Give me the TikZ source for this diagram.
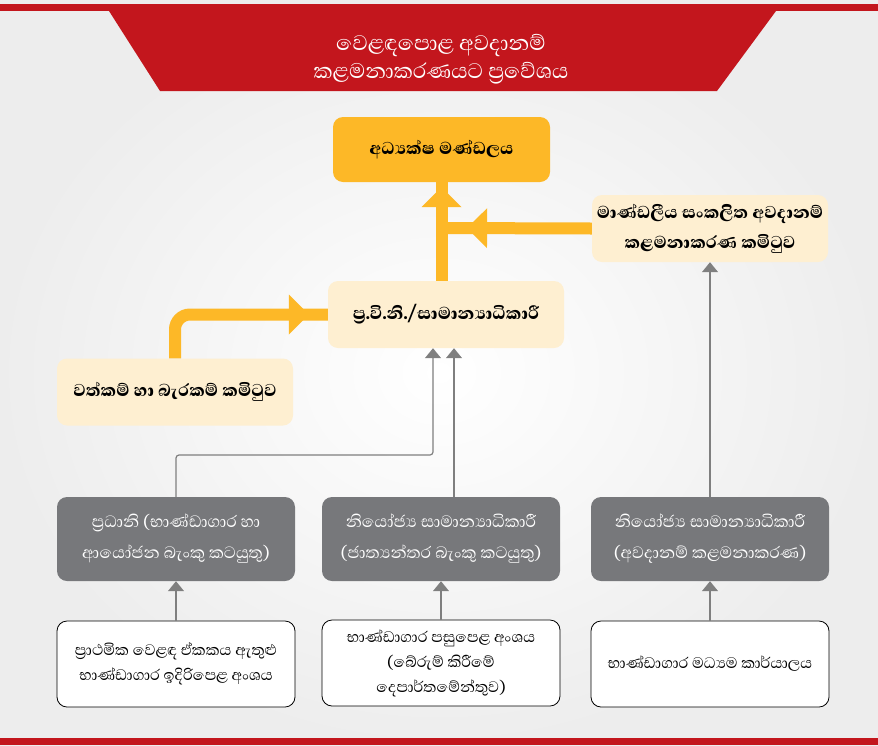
\documentclass[tikz,border=0pt]{standalone}
\usepackage{fontspec}
\newfontfamily\sinhala[Script=Sinhala, BoldFont={Abhaya Libre ExtraBold}]{Abhaya Libre}
\usetikzlibrary{arrows.meta, decorations.markings}
\definecolor{bannerred}{HTML}{C3161D}
\definecolor{gold}{HTML}{FDB827}
\definecolor{cream}{HTML}{FEEFD1}
\definecolor{slate}{HTML}{77787B}
\definecolor{wiregrey}{HTML}{7F7F7F}
\tikzset{midtip/.style={decoration={markings, mark=at position #1 with {\arrow{Triangle[width=40pt,length=20pt,line width=0pt]}}}, postaction={decorate}}}
\tikzset{
  goldline/.style={draw=gold, line width=12pt},
  wire/.style={draw=wiregrey, line width=1.2pt, -{Triangle[width=16pt,length=10pt]}},
  boardbox/.style={fill=gold, rounded corners=10pt, minimum width=217pt, minimum height=65pt, align=center, font=\sinhala\bfseries\fontsize{22}{30}\selectfont},
  creambox/.style={boardbox, fill=cream, minimum width=236pt, minimum height=67pt},
  headbox/.style={fill=slate, text=white, rounded corners=10pt, minimum width=238pt, minimum height=84pt, align=center, font=\sinhala\fontsize{21}{31}\selectfont},
  unitbox/.style={draw=black, line width=0.8pt, fill=white, rounded corners=10pt, minimum width=238pt, minimum height=86pt, align=center, font=\sinhala\fontsize{19.5}{25}\selectfont}
}

\begin{document}
\begin{tikzpicture}[x=1pt,y=-1pt]
\useasboundingbox (0,0) rectangle (878,745);
\shade[inner color=white, outer color=black!7] (0,0) rectangle (878,745);
\fill[bannerred] (0,4) rectangle (878,11);
\fill[bannerred] (0,738) rectangle (878,745);
\fill[bannerred] (109,11) -- (776,11) -- (717,91) -- (160,91) -- cycle;
\node[text=white, align=center, font=\sinhala\fontsize{27}{28}\selectfont] (title) at (441,59) {වෙළඳපොළ අවදානම්\\කළමනාකරණයට ප්‍රවේශය};

\node[boardbox] (board) at (441.5,149.5) {අධ්‍යක්ෂ මණ්ඩලය};
\node[creambox] (risk) at (710,228.5) {මාණ්ඩලීය සංකලිත අවදානම්\\කළමනාකරණ කමිටුව};
\node[creambox] (mid) at (446,314.5) {ප්‍ර.වි.නි./සාමාන්‍යාධිකාරී};
\node[creambox] (alco) at (175,392) {වත්කම් හා බැරකම් කමිටුව};

\node[headbox] (g1) at (176,539) {ප්‍රධානි (භාණ්ඩාගාර හා\\ආයෝජන බැංකු කටයුතු)};
\node[headbox] (g2) at (441,539) {නියෝජ්‍ය සාමාන්‍යාධිකාරී\\(ජාත්‍යන්තර බැංකු කටයුතු)};
\node[headbox] (g3) at (710,539) {නියෝජ්‍ය සාමාන්‍යාධිකාරී\\(අවදානම් කළමනාකරණ)};

\node[unitbox] (w1) at (176,664) {ප්‍රාථමික වෙළඳ ඒකකය ඇතුළු\\භාණ්ඩාගාර ඉදිරිපෙළ අංශය};
\node[unitbox] (w2) at (441,663) {භාණ්ඩාගාර පසුපෙළ අංශය\\(බේරුම් කිරීමේ\\දෙපාර්තමේන්තුව)};
\node[unitbox] (w3) at (710,664) {භාණ්ඩාගාර මධ්‍යම කාර්යාලය};

\coordinate (join) at (441.5,228);
\draw[goldline, midtip=0.95] (mid.north -| board.south) -- (board.south);
\draw[goldline, midtip=0.83] (risk.west) -- (join);
\draw[goldline, rounded corners=15pt, midtip=0.9] (alco.north) |- (mid.west);

\coordinate (bend) at (433,455);
\coordinate (tap) at (454,455);
\draw[wire, rounded corners=3pt] (g1.north) |- (bend) -- (bend |- mid.south);
\draw[wire] (tap |- g2.north) -- (tap |- mid.south);
\draw[wire] (g3.north) -- (risk.south);
\draw[wire] (w1.north) -- (g1.south);
\draw[wire] (w2.north) -- (g2.south);
\draw[wire] (w3.north) -- (g3.south);
\end{tikzpicture}
\end{document}
